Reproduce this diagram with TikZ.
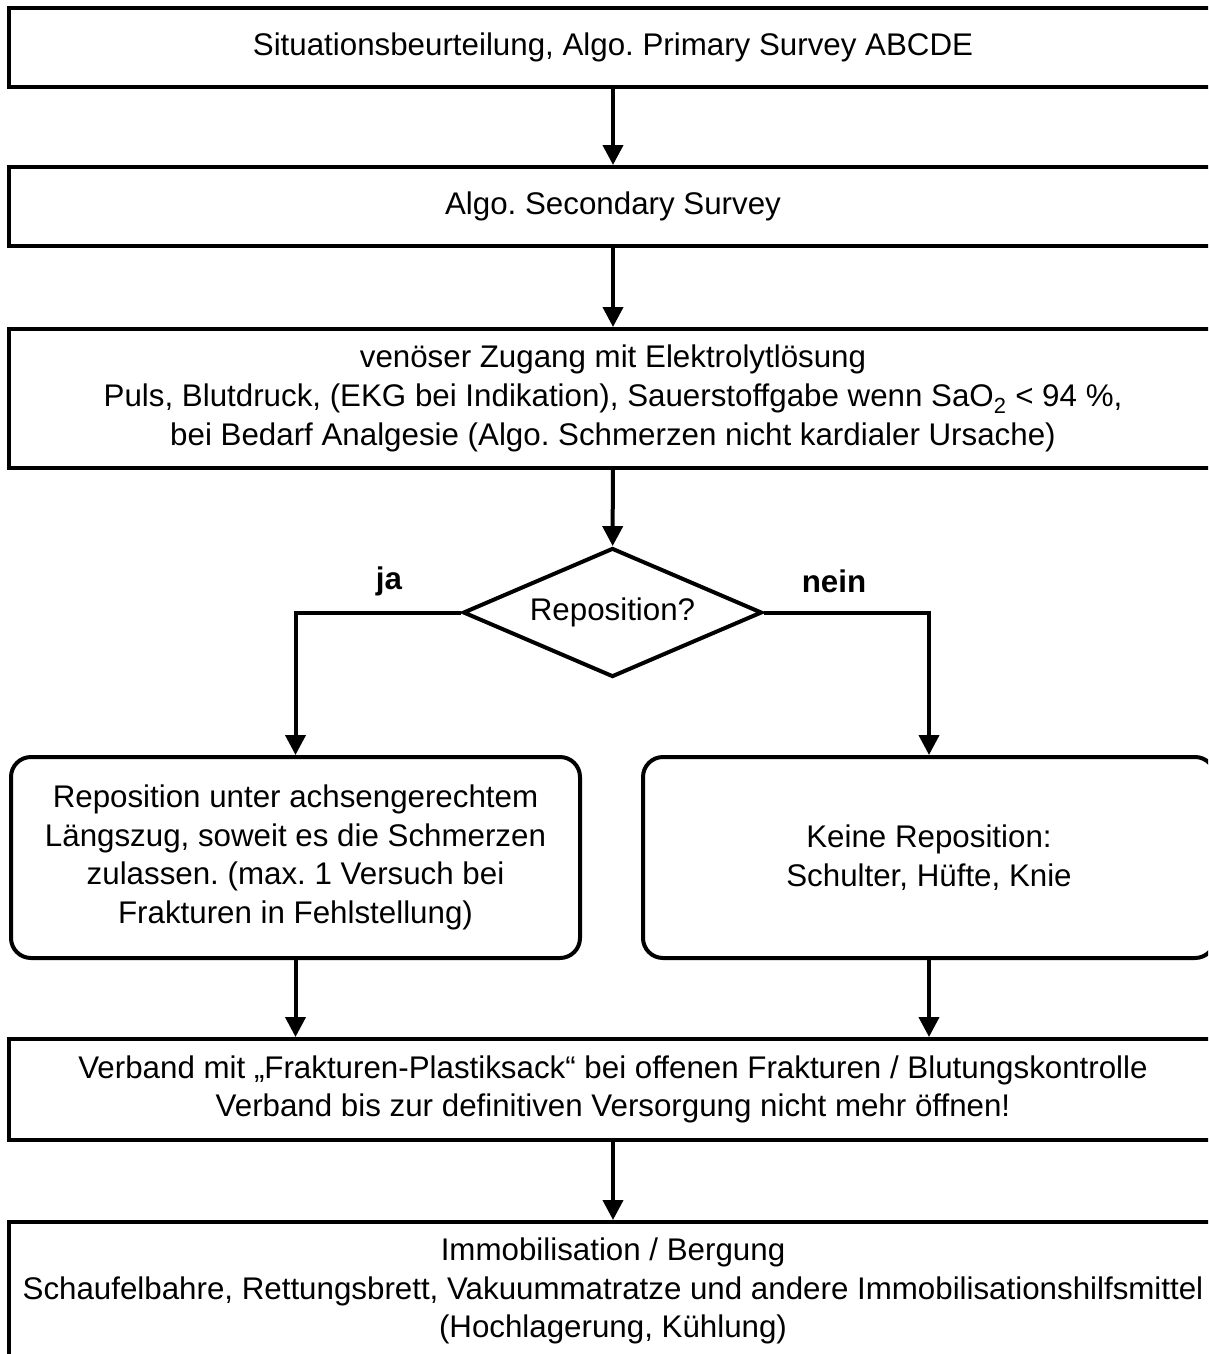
\documentclass[tikz,border=0pt]{standalone}
\usepackage{fontspec}
\setmainfont{Liberation Sans}
\usetikzlibrary{shapes.geometric,arrows.meta}
\frenchspacing
\begin{document}
\begin{tikzpicture}[x=1pt,y=-1pt,
  txt/.style={font=\fontsize{31.3pt}{38.7pt}\selectfont\frenchspacing, align=center},
  box/.style={txt, draw, line width=4pt, inner sep=0pt, minimum width=1208pt},
  rbox/.style={txt, draw, line width=4pt, inner sep=0pt, rounded corners=20pt, minimum height=201pt},
  dec/.style={txt, draw, line width=4pt, shape=diamond, inner sep=0pt, minimum width=299pt, minimum height=129pt, aspect=2.32},
  arr/.style={line width=4pt, -{Triangle[length=20pt,width=20pt]}},
  lbl/.style={txt, font=\fontsize{31.3pt}{38.7pt}\selectfont\bfseries}]
\useasboundingbox (0,0) rectangle (1208,1354);
\clip (0,0) rectangle (1208,1354);
\fill[white] (0,0) rectangle (1208,1354);

\node[box, minimum height=79pt] (b1) at (613,47.5) {Situationsbeurteilung, Algo. Primary Survey ABCDE};
\node[box, minimum height=79pt] (b2) at (613,206.5) {Algo. Secondary Survey};
\node[box, minimum height=139pt] (b3) at (613,398.5) {venöser Zugang mit Elektrolytlösung\\Puls, Blutdruck, (EKG bei Indikation), Sauerstoffgabe wenn SaO\textsubscript{2} < 94~\%,\\bei Bedarf Analgesie (Algo. Schmerzen nicht kardialer Ursache)};
\node[dec] (d) at (612.5,612.5) {Reposition?};
\node[lbl] (ja) at (389,581) {ja};
\node[lbl] (nein) at (834,581) {nein};
\node[rbox, minimum width=569pt] (l) at (295.5,857.5) {Reposition unter achsengerechtem\\Längszug, soweit es die Schmerzen\\zulassen. (max. 1 Versuch bei\\Frakturen in Fehlstellung)};
\node[rbox, minimum width=572pt] (r) at (929,857.5) {Keine Reposition:\\Schulter, Hüfte, Knie};
\node[box, minimum height=101pt] (b5) at (613,1089.5) {Verband mit „Frakturen-Plastiksack“ bei offenen Frakturen / Blutungskontrolle\\Verband bis zur definitiven Versorgung nicht mehr öffnen!};
\node[box, minimum height=138pt] (b6) at (613,1291) {Immobilisation / Bergung\\Schaufelbahre, Rettungsbrett, Vakuummatratze und andere Immobilisationshilfsmittel\\(Hochlagerung, Kühlung)};

\draw[arr] (b1) -- (b2);
\draw[arr] (b2) -- (b3);
\draw[arr] (b3) -- (d);
\draw[arr] (d.west) -| (l.north);
\draw[arr] (d.east) -| (r.north);
\draw[arr] (l.south) -- (l.south |- b5.north);
\draw[arr] (r.south) -- (r.south |- b5.north);
\draw[arr] (b5) -- (b6);
\end{tikzpicture}
\end{document}
